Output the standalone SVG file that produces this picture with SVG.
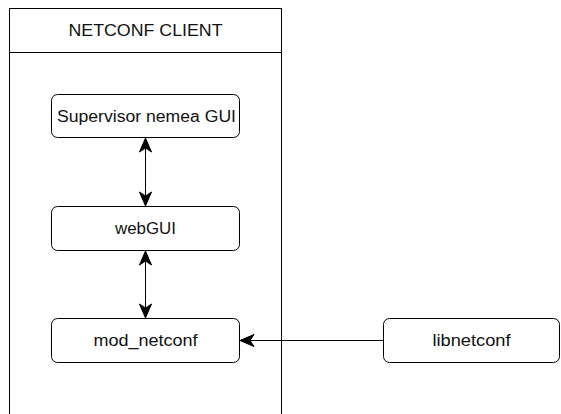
<svg xmlns="http://www.w3.org/2000/svg" width="561" height="414" viewBox="0 0 561 414">
<style>
.box{fill:#fff;stroke:#000;stroke-width:1}
.node{fill:#fff;stroke:#000;stroke-width:1}
.t{font-family:"Liberation Sans",Arial,sans-serif;font-size:16px;fill:#111;text-anchor:middle;dominant-baseline:central}
.c{stroke:#000;stroke-width:1;fill:none}
</style>
<defs>
<marker id="ah" markerWidth="16" markerHeight="16" viewBox="0 0 16 16" refX="15" refY="8" orient="auto-start-reverse" markerUnits="userSpaceOnUse">
<path d="M1,2 L15,8 L1,14 L5,8 Z" fill="#000" stroke="#000" stroke-width="1"/>
</marker>
</defs>
<g id="client">
<rect class="box" x="9.5" y="8.5" width="272" height="420"/>
<line x1="9.5" y1="52.5" x2="281.5" y2="52.5" stroke="#000"/>
<text class="t" x="145.5" y="30.5" textLength="154" lengthAdjust="spacingAndGlyphs">NETCONF CLIENT</text>
</g>
<g id="connectors">
<line class="c" x1="145.5" y1="138" x2="145.5" y2="206" marker-start="url(#ah)" marker-end="url(#ah)"/>
<line class="c" x1="145.5" y1="251" x2="145.5" y2="318" marker-start="url(#ah)" marker-end="url(#ah)"/>
<line class="c" x1="383" y1="340.5" x2="240" y2="340.5" marker-end="url(#ah)"/>
</g>
<g id="supervisor">
<rect class="node" x="51.5" y="94.5" width="188" height="43" rx="6"/>
<text class="t" x="146.5" y="116" textLength="179" lengthAdjust="spacingAndGlyphs">Supervisor nemea GUI</text>
</g>
<g id="webgui">
<rect class="node" x="51.5" y="206.5" width="188" height="44" rx="6"/>
<text class="t" x="145.5" y="228.5" textLength="61" lengthAdjust="spacingAndGlyphs">webGUI</text>
</g>
<g id="mod_netconf">
<rect class="node" x="51.5" y="318.5" width="188" height="44" rx="6"/>
<text class="t" x="145.5" y="340.5" textLength="104" lengthAdjust="spacingAndGlyphs">mod_netconf</text>
</g>
<g id="libnetconf">
<rect class="node" x="383.5" y="318.5" width="176" height="44" rx="6"/>
<text class="t" x="471.5" y="340.5" textLength="78" lengthAdjust="spacingAndGlyphs">libnetconf</text>
</g>
</svg>
